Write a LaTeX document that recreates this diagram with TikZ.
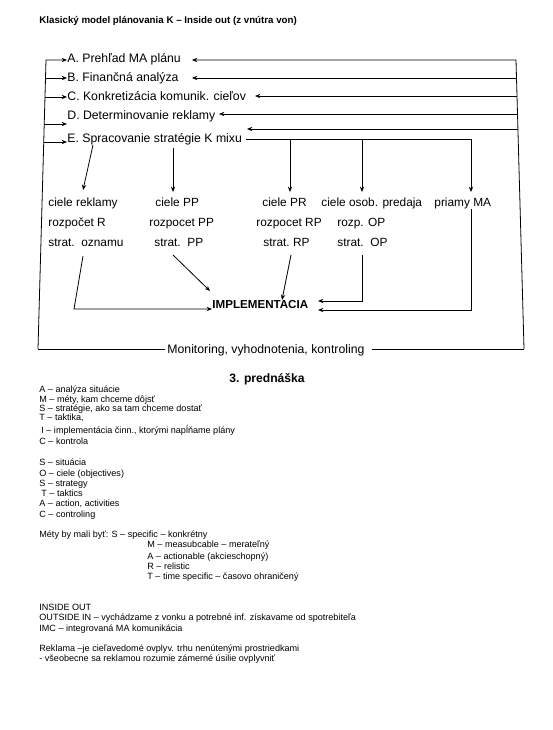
\documentclass[tikz,border=0pt]{standalone}
\usepackage{fontspec}
\setmainfont{Liberation Sans}
\usetikzlibrary{arrows.meta}
\begin{document}
\begin{tikzpicture}[x=0.75pt,y=-0.75pt,
  line width=0.6pt,
  arr/.style={-{Stealth[length=4pt,width=3.2pt]}},
  lbl/.style={inner sep=0pt,anchor=base west,font=\fontsize{9.2}{10}\selectfont},
  rowlbl/.style={inner sep=0pt,anchor=base west,font=\fontsize{8.9}{10}\selectfont},
  bold/.style={inner sep=0pt,anchor=base west,font=\fontsize{8.7}{10}\selectfont\bfseries},
  small/.style={inner sep=0pt,anchor=base west,font=\fontsize{6.8}{8}\selectfont},
  ttl/.style={inner sep=0pt,anchor=base west,font=\fontsize{7.3}{9}\selectfont\bfseries}]
\useasboundingbox (0,0) rectangle (552,730);
\fill[white] (0,0) rectangle (552,730);

% title
\node[ttl] (title) at (39,24) {Klasický model plánovania K – Inside out (z vnútra von)};

% steps
\node[lbl] (A) at (67,63) {A. Prehľad MA plánu};
\node[lbl] (B) at (67,82) {B. Finančná analýza};
\node[lbl] (C) at (67,101) {C. Konkretizácia komunik. cieľov};
\node[lbl] (D) at (67,120) {D. Determinovanie reklamy};
\node[lbl] (E) at (67,143) {E. Spracovanie stratégie K mixu};

% frame coordinates
\coordinate (lTop) at (46,60);
\coordinate (lB) at (45.5,78);
\coordinate (lC) at (45,97);
\coordinate (lD) at (44.2,124);
\coordinate (lE) at (43.7,142);
\coordinate (lBot) at (38,349);
\coordinate (rTop) at (516,60);
\coordinate (rB) at (516.5,78);
\coordinate (rC) at (517,96);
\coordinate (rD) at (517.5,114);
\coordinate (rE) at (518,129);
\coordinate (rBot) at (524,349);

% left arrows
\draw[arr] (lBot) -- (lTop) -- (lTop -| A.west);
\draw[arr] (lB) -- (lB -| B.west);
\draw[arr] (lC) -- (lC -| C.west);
\draw[arr] (lD) -- (lD -| D.west);
\draw[arr] (lE) -- (lE -| E.west);

% right arrows
\coordinate (tA) at (192,60);
\coordinate (tB) at (192,78);
\coordinate (tC) at (255,96);
\coordinate (tD) at (219,114);
\coordinate (tE) at (247,129);
\draw[arr] (rBot) -- (rTop) -- (tA);
\draw[arr] (rB) -- (tB);
\draw[arr] (rC) -- (tC);
\draw[arr] (rD) -- (tD);
\draw[arr] (rE) -- (tE);

% bottom monitoring
\node[lbl] (M) at (167,353) {Monitoring, vyhodnotenia, kontroling};
\coordinate (mL) at (165,349);
\coordinate (mR) at (372,349);
\draw (lBot) -- (mL);
\draw (mR) -- (rBot);

% row texts
\node[rowlbl] (c1) at (48,207) {ciele reklamy};
\node[rowlbl] (c2) at (155,207) {ciele PP};
\node[rowlbl] (c3) at (262,207) {ciele PR};
\node[rowlbl] (c4) at (321,207) {ciele osob. predaja};
\node[rowlbl] (c5) at (434,207) {priamy MA};
\node[rowlbl] (r1) at (48,227) {rozpočet R};
\node[rowlbl] (r2) at (149,227) {rozpocet PP};
\node[rowlbl] (r3) at (256,227) {rozpocet RP};
\node[rowlbl] (r4) at (337,227) {rozp. OP};
\node[rowlbl] (s1) at (48,247) {strat.\ \ oznamu};
\node[rowlbl] (s2) at (154,247) {strat.\ \ PP};
\node[rowlbl] (s3) at (263,247) {strat.\ RP};
\node[rowlbl] (s4) at (337,247) {strat.\ \ OP};

% E distribution
\coordinate (eS) at (246,139);
\coordinate (e3) at (290,139);
\coordinate (e4) at (362,139);
\coordinate (e5) at (471,139);
\draw (eS) -- (e5);
\draw[arr] (e3) -- (290,192);
\draw[arr] (e4) -- (362,192);
\draw[arr] (e5) -- (471,192);
\draw[arr] (173,148) -- (173,192);
\draw[arr] (93,145) -- (83,190);

% implementation
\node[bold] (I) at (212,309) {IMPLEMENTACIA};
\draw[arr] (83,256) -- (74,309) -- (I.west |- 0,309);
\draw[arr] (173,255) -- (210,291);
\draw[arr] (291,255) -- (282,300);
\draw[arr] (362,255) -- (362,301) -- (318,301);
\draw[arr] (471,209) -- (471,310) -- (318,310);

% lecture notes
\node[inner sep=0pt,anchor=base west,font=\fontsize{9.1}{11}\selectfont\bfseries] (h) at (229,382) {3. prednáška};

\node[small] (n1) at (39,392) {A – analýza situácie};
\node[small] (n2) at (39,402) {M – méty, kam chceme dôjsť};
\node[small] (n3) at (39,411) {S – stratégie, ako sa tam chceme dostať};
\node[small] (n4) at (39,420) {T – taktika,};
\node[small] (n5) at (41,433) {I – implementácia činn., ktorými napĺňame plány};
\node[small] (n6) at (39,444) {C – kontrola};

\node[small] (o1) at (39,465) {S – situácia};
\node[small] (o2) at (39,476) {O – ciele (objectives)};
\node[small] (o3) at (39,486) {S – strategy};
\node[small] (o4) at (41,496) {T – taktics};
\node[small] (o5) at (39,506) {A – action, activities};
\node[small] (o6) at (39,517) {C – controling};

\node[small] (m1) at (39,537) {Méty by mali byť: S – specific – konkrétny};
\node[small] (m2) at (147,547) {M – measubcable – merateľný};
\node[small] (m3) at (147,559) {A – actionable (akcieschopný)};
\node[small] (m4) at (147,569) {R – relistic};
\node[small] (m5) at (147,579) {T – time specific – časovo ohraničený};

\node[small] (i1) at (39,610) {INSIDE OUT};
\node[small] (i2) at (39,620) {OUTSIDE IN – vychádzame z vonku a potrebné inf. získavame od spotrebiteľa};
\node[small] (i3) at (39,631) {IMC – integrovaná MA komunikácia};
\node[small] (i4) at (39,651) {Reklama –je cieľavedomé ovplyv. trhu nenútenými prostriedkami};
\node[small] (i5) at (39,661) {- všeobecne sa reklamou rozumie zámerné úsilie ovplyvniť};
\end{tikzpicture}
\end{document}
